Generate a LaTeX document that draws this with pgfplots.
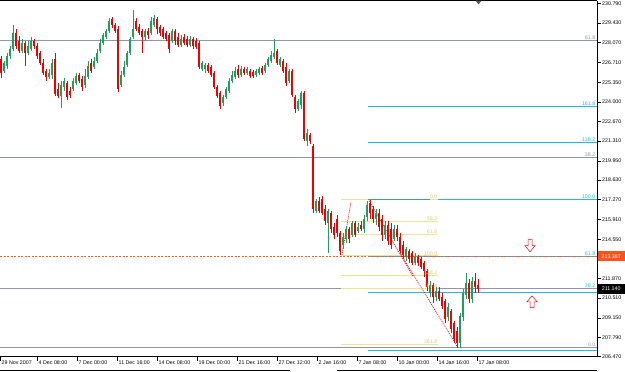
\documentclass[border=0pt]{standalone}
\usepackage{pgfplots}
\pgfplotsset{compat=1.18}
\usepackage{pgfplotstable}
\usepackage{fontspec}
\setmainfont{Liberation Sans}
\definecolor{upc}{RGB}{30,160,90}
\definecolor{dnc}{RGB}{240,0,0}
\definecolor{fibgray}{RGB}{140,152,170}
\definecolor{fibblue}{RGB}{30,185,240}
\definecolor{fibyel}{RGB}{240,228,145}
\definecolor{fibyeltxt}{RGB}{222,205,115}
\definecolor{fibgreen}{RGB}{60,170,120}
\definecolor{ordash}{RGB}{255,90,30}
\newcommand{\tf}{\fontsize{5.3}{6}\selectfont}

\pgfplotstableread{
x o h l c
4 226.14 226.83 226.00 226.69
7 226.49 227.38 226.28 227.18
10 227.18 227.87 226.97 227.66
13 227.66 229.30 227.52 228.76
22 227.52 228.35 227.38 228.07
28 227.38 228.21 227.24 227.87
31 227.66 228.49 227.52 228.21
49 225.73 226.28 225.59 226.00
52 225.86 226.97 225.59 226.69
61 224.43 225.46 223.60 225.18
64 225.05 225.66 224.77 225.46
73 224.91 225.66 224.77 225.46
76 225.32 226.00 225.18 225.80
85 225.18 226.28 224.98 225.80
88 225.73 226.83 225.59 226.49
94 226.42 227.11 226.28 226.83
97 226.83 227.66 226.69 227.38
100 227.52 228.35 227.38 228.07
103 228.07 228.76 227.93 228.62
106 228.49 229.03 228.35 228.90
109 228.90 229.79 228.76 229.58
121 225.18 226.14 225.05 225.86
124 225.86 226.83 225.73 226.42
127 226.55 227.52 226.42 227.38
130 227.38 228.49 227.24 228.35
133 228.49 230.34 228.35 229.03
145 228.49 229.03 228.21 228.90
151 228.76 229.86 228.62 229.58
154 229.30 229.99 229.17 229.79
172 228.21 229.03 228.07 228.90
181 227.93 228.62 227.80 228.35
190 227.93 228.56 227.80 228.35
202 226.28 226.83 226.14 226.69
205 226.28 226.69 226.00 226.55
223 223.94 224.49 223.74 224.36
226 224.36 225.05 224.22 224.91
229 224.77 225.66 224.63 225.46
232 225.46 226.14 225.32 225.86
235 225.73 226.42 225.59 226.14
241 225.86 226.49 225.73 226.28
247 226.00 226.42 225.86 226.28
256 225.86 226.28 225.73 226.14
259 226.00 226.42 225.86 226.28
265 226.14 226.69 226.00 226.55
268 226.55 227.11 226.42 226.97
271 226.83 227.52 226.69 227.24
274 227.11 228.35 226.97 227.38
280 226.55 227.11 226.42 226.97
289 225.46 226.28 225.32 226.14
298 223.53 224.22 223.39 224.08
301 223.80 224.77 223.53 224.63
307 221.33 222.15 220.99 221.88
316 216.51 217.34 216.37 217.20
328 215.68 216.65 213.62 216.51
343 214.17 215.00 213.90 214.73
346 214.59 215.48 214.31 215.27
352 214.86 215.82 214.73 215.68
358 215.14 215.68 215.00 215.41
364 215.27 216.23 215.00 215.96
367 216.10 217.20 215.82 216.92
376 215.96 216.65 215.54 216.37
385 214.86 215.82 214.59 215.54
394 214.59 215.54 214.45 215.27
406 213.35 214.04 213.07 213.90
415 212.93 213.62 212.79 213.35
430 210.87 211.70 210.60 211.42
436 210.60 211.29 210.32 211.01
448 209.22 210.18 208.94 209.91
460 207.43 209.49 207.09 209.29
463 209.22 211.15 208.94 210.87
466 210.73 212.24 210.47 211.56
472 210.47 211.97 210.18 211.70
}\up

\pgfplotstableread{
x o h l c
1 226.97 227.18 225.66 226.00
16 228.76 229.03 227.66 227.87
19 228.21 228.56 227.38 227.52
25 228.07 228.21 226.49 227.38
34 228.21 228.35 227.66 227.87
37 227.87 228.07 226.97 227.18
40 227.38 227.52 226.55 226.69
43 226.69 226.97 225.86 226.00
46 226.14 226.28 225.46 225.73
55 226.97 227.38 224.43 224.56
58 224.91 225.32 224.29 224.43
67 225.32 225.46 224.15 224.36
70 224.77 225.05 224.29 224.49
79 225.86 226.00 225.32 225.46
82 225.59 225.80 224.77 225.05
91 226.69 226.97 226.00 226.14
112 229.72 229.86 229.10 229.30
115 229.30 229.44 228.76 228.90
118 229.03 229.24 224.70 224.91
136 229.58 229.79 228.90 229.03
139 229.17 229.37 228.62 228.76
142 228.90 229.03 227.38 228.49
148 228.90 229.10 228.35 228.62
157 229.72 229.86 228.69 229.03
160 229.17 229.30 228.56 228.76
163 229.03 229.17 228.35 228.49
166 228.76 228.90 228.21 228.35
169 228.62 228.76 227.38 227.66
175 228.90 229.03 227.93 228.21
178 228.49 228.76 227.80 227.93
184 228.49 228.69 227.93 228.07
187 228.35 228.56 227.80 227.93
193 228.35 228.49 227.66 227.87
196 228.21 228.42 227.66 227.80
199 228.07 228.21 226.28 226.42
208 226.55 226.69 226.00 226.14
211 226.42 226.55 225.73 225.86
214 226.00 226.14 224.91 225.05
217 225.05 225.18 224.29 224.43
220 224.63 224.77 223.53 223.74
238 226.28 226.55 225.66 225.86
244 226.28 226.42 225.86 226.00
250 226.14 226.28 225.66 225.80
253 226.07 226.21 225.66 225.80
262 226.35 226.49 225.86 226.00
277 227.52 227.66 226.55 226.69
283 226.83 226.97 226.00 226.14
286 226.42 226.69 225.12 225.32
292 226.14 226.28 224.36 224.49
295 224.36 224.49 223.25 223.53
304 224.63 224.77 221.33 221.47
310 221.74 221.88 221.12 221.33
313 220.99 221.12 216.37 216.65
319 217.20 217.48 216.37 216.51
322 217.34 217.55 216.23 216.37
325 216.65 216.92 215.54 215.82
331 216.37 216.51 215.00 215.27
334 215.41 215.68 214.59 214.86
337 215.96 216.23 214.73 215.00
340 215.00 215.14 213.48 213.76
349 215.27 215.41 214.31 214.59
355 215.68 215.82 214.73 214.86
361 215.54 215.82 215.14 215.27
370 217.06 217.27 215.96 216.37
373 216.65 216.86 215.68 215.96
379 216.37 216.65 215.14 215.41
382 215.96 216.23 214.45 214.86
388 215.54 215.82 214.17 214.45
391 215.27 215.68 213.90 214.17
397 215.27 215.54 214.45 214.73
400 214.73 215.00 213.62 213.76
403 214.17 214.45 213.28 213.48
409 213.76 213.90 212.93 213.21
412 213.62 213.76 212.79 212.93
418 213.35 213.48 212.73 212.93
421 213.21 213.35 212.52 212.66
424 212.93 213.07 211.97 212.38
427 212.38 212.52 211.01 211.29
433 211.42 211.56 210.18 210.60
439 211.01 211.29 210.32 210.47
442 210.60 210.87 209.77 209.98
445 210.32 210.47 208.80 209.08
451 209.63 209.77 208.12 208.39
454 208.80 208.94 207.43 207.71
457 208.26 208.53 207.09 207.43
469 211.56 211.83 210.18 210.47
475 211.70 212.24 210.87 211.29
478 211.42 211.83 210.87 211.14
}\dn

\begin{document}
\begin{tikzpicture}[x=1pt,y=1pt]
\useasboundingbox (0,0) rectangle (625,-372);
\begin{axis}[
  at={(0,-0.5)}, anchor=north west,
  scale only axis, width=597pt, height=356pt,
  xmin=0, xmax=597, ymin=206.47, ymax=230.96,
  clip=false,
  axis x line*=box, axis y line*=right,
  axis line style={black, line width=0.7pt, -},
  tick align=outside, major tick length=4pt,
  tick style={black, line width=0.5pt},
  xtick pos=bottom, ytick pos=right, yticklabel pos=right,
  ytick={230.79,229.43,228.07,226.71,225.35,224.00,222.67,221.31,219.95,218.63,217.27,215.91,214.55,211.87,210.51,209.15,207.79,206.47},
  yticklabels={230.790,229.430,228.070,226.710,225.350,224.000,222.670,221.310,219.950,218.630,217.270,215.910,214.550,211.870,210.510,209.150,207.790,206.470},
  yticklabel style={font=\tf, inner sep=1pt},
  xtick={0,37,77,117,157,197,237,277,317,357,397,437,477},
  xticklabels={29 Nov 2007,4 Dec 08:00,7 Dec 00:00,11 Dec 16:00,14 Dec 08:00,19 Dec 00:00,21 Dec 16:00,27 Dec 12:00,2 Jan 16:00,7 Jan 08:00,10 Jan 00:00,14 Jan 16:00,17 Jan 08:00},
  xticklabel style={font=\tf, anchor=west, inner sep=0pt, xshift=1.5pt, yshift=-1.5pt},
]
% full-width fibonacci levels (grey)
\addplot[fibgray, line width=0.6pt] coordinates {(0,228.21) (597,228.21)};
\addplot[fibgray, line width=0.6pt] coordinates {(0,220.16) (597,220.16)};
\addplot[fibgray, line width=0.6pt] coordinates {(0,211.15) (597,211.15)};
\addplot[fibgray, line width=0.6pt] coordinates {(0,207.09) (597,207.09)};
% blue fibonacci levels
\addplot[fibblue, line width=0.6pt] coordinates {(368,223.67) (597,223.67)};
\addplot[fibblue, line width=0.6pt] coordinates {(368,221.19) (597,221.19)};
\addplot[fibblue, line width=0.6pt] coordinates {(438,217.27) (597,217.27)};
\addplot[fibblue, line width=0.6pt] coordinates {(368,213.387) (597,213.387)};
\addplot[fibblue, line width=0.6pt] coordinates {(368,210.87) (597,210.87)};
\addplot[fibblue, line width=0.6pt] coordinates {(368,206.88) (597,206.88)};
% yellow fibonacci levels
\addplot[fibyel, line width=0.7pt] coordinates {(341,217.27) (438,217.27)};
\addplot[fibyel, line width=0.7pt] coordinates {(341,215.80) (438,215.80)};
\addplot[fibyel, line width=0.7pt] coordinates {(341,214.88) (438,214.88)};
\addplot[fibyel, line width=0.7pt] coordinates {(341,213.41) (438,213.41)};
\addplot[fibyel, line width=0.7pt] coordinates {(341,212.07) (438,212.07)};
\addplot[fibyel, line width=0.7pt] coordinates {(341,211.16) (438,211.16)};
\addplot[fibyel, line width=0.7pt] coordinates {(341,207.30) (438,207.30)};
\addplot[fibgreen, line width=0.6pt] coordinates {(368,217.27) (430,217.27)};
% current price line
\addplot[ordash, line width=0.6pt, dash pattern=on 2pt off 1.5pt] coordinates {(0,213.387) (597,213.387)};
% red dotted zigzag
\addplot[dnc, line width=0.7pt, dash pattern=on 1pt off 1pt] coordinates {(342,213.48) (351,217.13)};
\addplot[dnc, line width=0.7pt, dash pattern=on 1pt off 1pt] coordinates {(369,217.20) (413,211.97)};
\addplot[dnc, line width=0.7pt, dash pattern=on 1pt off 1pt] coordinates {(400,213.62) (458,207.09)};
% candles: wicks and bodies
\addplot[draw=none, mark=none, forget plot, error bars/.cd, y dir=both, y explicit, error mark=none,
  error bar style={draw=upc, line width=0.6pt}]
  table[x=x, y expr={(\thisrow{h}+\thisrow{l})/2}, y error expr={(\thisrow{h}-\thisrow{l})/2}] {\up};
\addplot[draw=none, mark=none, forget plot, error bars/.cd, y dir=both, y explicit, error mark=none,
  error bar style={draw=upc, line width=2pt}]
  table[x=x, y expr={(\thisrow{o}+\thisrow{c})/2}, y error expr={(\thisrow{c}-\thisrow{o})/2}] {\up};
\addplot[draw=none, mark=none, forget plot, error bars/.cd, y dir=both, y explicit, error mark=none,
  error bar style={draw=dnc, line width=0.6pt}]
  table[x=x, y expr={(\thisrow{h}+\thisrow{l})/2}, y error expr={(\thisrow{h}-\thisrow{l})/2}] {\dn};
\addplot[draw=none, mark=none, forget plot, error bars/.cd, y dir=both, y explicit, error mark=none,
  error bar style={draw=dnc, line width=2pt}]
  table[x=x, y expr={(\thisrow{o}+\thisrow{c})/2}, y error expr={(\thisrow{o}-\thisrow{c})/2}] {\dn};
% arrows
\addplot[dnc, line width=0.5pt] coordinates {(528,214.52) (532,214.52) (532,214.11) (535,214.11) (530,213.69) (525,214.11) (528,214.11) (528,214.52)};
\addplot[dnc, line width=0.5pt] coordinates {(532,210.66) (537,210.25) (534,210.25) (534,209.84) (530,209.84) (530,210.25) (527,210.25) (532,210.66)};
% level labels
\begin{scope}[every node/.style={font=\tf, inner sep=0.5pt, anchor=south east}]
\node[text=fibgray] at (axis cs:596,228.21) {61.8};
\node[text=fibgray] at (axis cs:596,220.16) {38.2};
\node[text=fibgray] at (axis cs:596,207.09) {0.0};
\node[text=fibblue] at (axis cs:596,223.67) {161.8};
\node[text=fibblue] at (axis cs:596,221.19) {138.2};
\node[text=fibblue] at (axis cs:596,217.27) {100.0};
\node[text=fibblue] at (axis cs:596,213.387) {61.8};
\node[text=fibblue] at (axis cs:596,211.15) {38.2};
\node[text=fibyeltxt] at (axis cs:438,217.27) {0.0};
\node[text=fibyeltxt] at (axis cs:438,215.80) {38.2};
\node[text=fibyeltxt] at (axis cs:438,214.88) {61.8};
\node[text=fibyeltxt] at (axis cs:438,213.41) {100.0};
\node[text=fibyeltxt] at (axis cs:438,212.07) {138.2};
\node[text=fibyeltxt] at (axis cs:438,211.16) {161.8};
\node[text=fibyeltxt] at (axis cs:438,207.30) {261.8};
\end{scope}
\node[fill=ordash!90!red, text=white, font=\tf, inner sep=0pt, minimum width=27pt, minimum height=10pt, anchor=west] at (axis cs:597.5,213.387) {213.387};
\node[fill=black, text=white, font=\tf, inner sep=0pt, minimum width=27pt, minimum height=10pt, anchor=west] at (axis cs:597.5,211.14) {211.140};
\end{axis}
\fill[black!65] (475.5,-0.5) -- (481.5,-0.5) -- (478.5,-4.5) -- cycle;
\draw[black, line width=0.8pt] (0,-370.5) -- (290,-370.5);
\draw[black, line width=0.8pt] (337,-370.5) -- (597,-370.5);
\end{tikzpicture}
\end{document}
